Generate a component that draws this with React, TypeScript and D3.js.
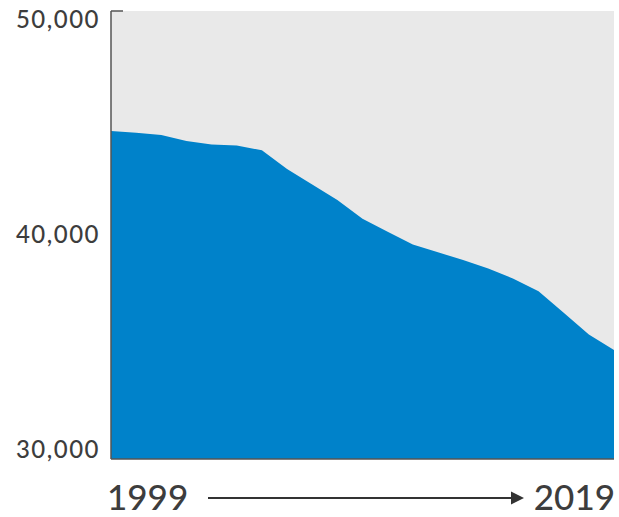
import * as React from 'react';
import * as d3 from 'd3';

// yearly values
const years = [1999, 2000, 2001, 2002, 2003, 2004, 2005, 2006, 2007, 2008, 2009,
  2010, 2011, 2012, 2013, 2014, 2015, 2016, 2017, 2018, 2019];
const values = [44640, 44570, 44460, 44200, 44040, 44000, 43780, 42950, 42260, 41560, 40730,
  40140, 39580, 39230, 38880, 38500, 38050, 37490, 36530, 35560, 34870];
const yTicks = [30000, 40000, 50000];
const endLabels = ['1999', '2019'];

const W = 619, H = 517;
const left = 111, right = 614, top = 11, bottom = 459;

export default function App() {
  const x = d3.scaleLinear().domain([years[0], years[years.length - 1]]).range([left, right]);
  const y = d3.scaleLinear().domain([30000, 50000]).range([bottom, top]);

  const data = years.map((yr, i) => ({ yr, v: values[i] }));
  const area = d3.area<{ yr: number; v: number }>()
    .x(d => x(d.yr))
    .y0(y(30000))
    .y1(d => y(d.v));

  const fmt = d3.format(',');
  const font = 'Lato, "Open Sans", sans-serif';

  // label vertical placement: top one hangs below the tick, bottom one sits on the axis
  const labelY = (t: number) => {
    if (t === 50000) return y(t) + 17;
    if (t === 30000) return y(t) - 1;
    return y(t) + 8;
  };

  return (
    <svg width={W} height={H} style={{ position: 'absolute', left: 0, top: 0 }}>
      <rect x={left} y={top} width={right - left} height={bottom - top} fill="#e9e9e9" />
      <path d={area(data) || ''} fill="#0082ca" />

      {/* axes */}
      <line x1={left} x2={left} y1={top} y2={bottom} stroke="#555" strokeWidth={1.5} />
      <line x1={left} x2={left + 12} y1={top} y2={top} stroke="#555" strokeWidth={1.5} />
      <line x1={left} x2={right} y1={bottom} y2={bottom} stroke="#555" strokeWidth={1.5} />

      {yTicks.map(t => (
        <text key={t} x={100} y={labelY(t)} textAnchor="end" fontFamily={font} fontWeight={500}
          fontSize={24} letterSpacing={1.5} fill="#3d3d3d">{fmt(t)}</text>
      ))}

      <text x={107} y={510} fontFamily={font} fontWeight={500} fontSize={35} fill="#3d3d3d">{endLabels[0]}</text>
      <text x={615} y={510} textAnchor="end" fontFamily={font} fontWeight={500} fontSize={35} fill="#3d3d3d">{endLabels[1]}</text>

      <line x1={208} x2={513} y1={498} y2={498} stroke="#333" strokeWidth={2} />
      <path d="M511,491.5 L524,498 L511,504.5 Z" fill="#333" />
    </svg>
  );
}
